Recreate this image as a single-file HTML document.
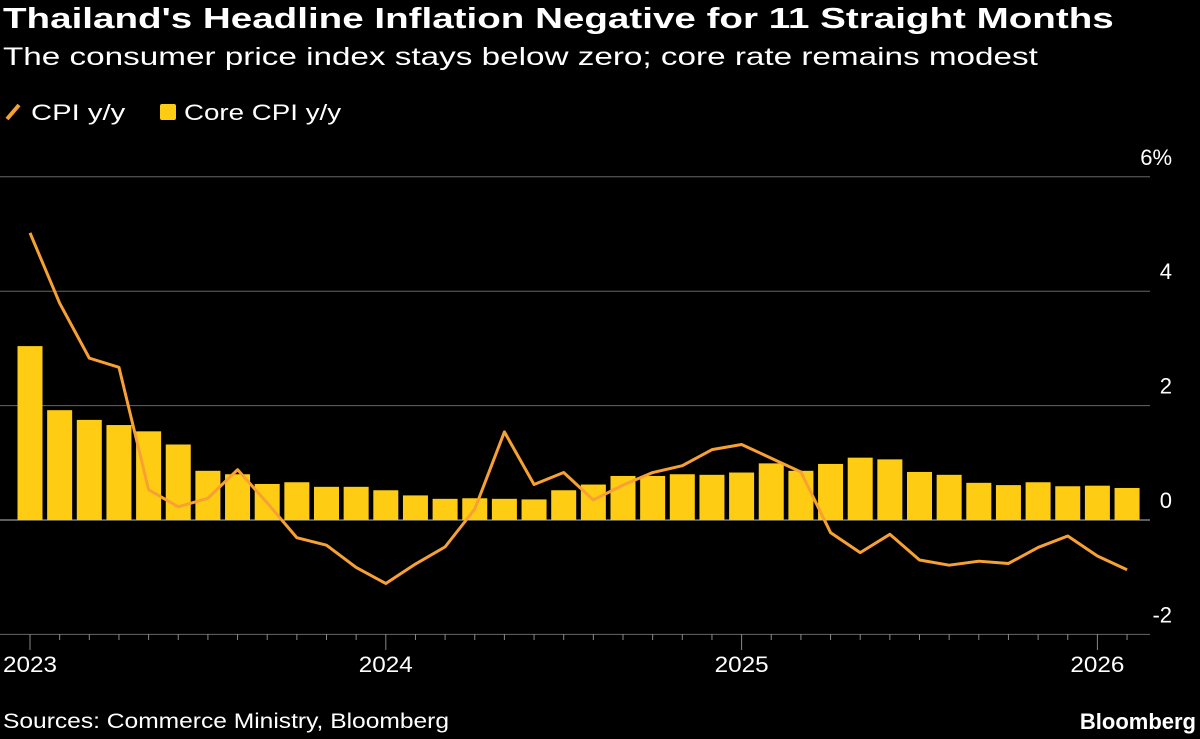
<!DOCTYPE html>
<html><head><meta charset="utf-8"><style>
html,body{margin:0;padding:0;background:#000;}
body{width:1200px;height:739px;overflow:hidden;font-family:"Liberation Sans",sans-serif;color:#fff;position:relative;}
.t{position:absolute;white-space:nowrap;transform-origin:0 0;}
</style></head><body>
<div class="t" style="left:3px;top:3px;font-size:29px;font-weight:bold;transform:scaleX(1.33);">Thailand's Headline Inflation Negative for 11 Straight Months</div>
<div class="t" style="left:3px;top:43px;font-size:25px;transform:scaleX(1.33);">The consumer price index stays below zero; core rate remains modest</div>
<div class="t" style="left:3px;top:100px;font-size:22px;"><svg width="22" height="22" style="vertical-align:-3px"><line x1="4" y1="18" x2="16" y2="4" stroke="#f7a134" stroke-width="4"/></svg> <span style="display:inline-block;transform:scaleX(1.33);transform-origin:0 0;">CPI y/y</span></div>
<div class="t" style="left:156px;top:100px;font-size:22px;"><svg width="22" height="22" style="vertical-align:-3px"><rect x="4" y="3" width="16" height="16" rx="2" fill="#ffcc14"/></svg> <span style="display:inline-block;transform:scaleX(1.26);transform-origin:0 0;">Core CPI y/y</span></div>
<svg id="chart" width="1200" height="739" style="position:absolute;left:0;top:0"></svg>
<div class="t" style="left:3px;top:710px;font-size:21px;transform:scaleX(1.17);">Sources: Commerce Ministry, Bloomberg</div>
<div class="t" style="right:4px;top:709px;font-size:22px;font-weight:bold;">Bloomberg</div>
<script>
const core=[3.04,1.92,1.75,1.66,1.55,1.32,0.86,0.80,0.63,0.66,0.58,0.58,0.52,0.43,0.37,0.38,0.37,0.36,0.52,0.62,0.77,0.77,0.80,0.79,0.83,0.99,0.86,0.98,1.09,1.06,0.84,0.79,0.65,0.61,0.66,0.59,0.60,0.56];
const cpi=[5.02,3.79,2.83,2.67,0.53,0.23,0.38,0.88,0.30,-0.31,-0.44,-0.83,-1.11,-0.77,-0.47,0.19,1.54,0.62,0.83,0.35,0.61,0.83,0.95,1.23,1.32,1.08,0.84,-0.22,-0.57,-0.25,-0.70,-0.79,-0.72,-0.76,-0.48,-0.28,-0.63,-0.87];
const yTicks=[6,4,2,0,-2];
const yearLabels=["2023","2024","2025","2026"];
const svg=document.getElementById('chart');
const NS='http://www.w3.org/2000/svg';
const x=i=>30+i*29.65;
const y=v=>520-v*57.2;
function mk(t,a){const e=document.createElementNS(NS,t);for(const k in a)e.setAttribute(k,a[k]);svg.appendChild(e);return e;}
yTicks.forEach(v=>{
 const g=mk('line',{x1:0,x2:1150,y1:y(v),y2:y(v),stroke:v===0?'#bbb':'#666','stroke-width':1});
 
 
 const t=mk('text',{x:1172,y:y(v)-12,'text-anchor':'end','font-size':22,fill:'#fff','font-family':'Liberation Sans, sans-serif'});
 t.textContent=v===6?'6%':String(v);
 
 
});
core.forEach((v,i)=>{
 const r=mk('rect',{x:x(i)-12.5,width:25,y:Math.min(y(v),y(0)),height:Math.abs(y(v)-y(0)),fill:'#ffcc14'});
 
 
});
for(let i=0;i<core.length;i++){
 const major=i%12===0;
 const tk=mk('line',{x1:x(i),x2:x(i),y1:634,y2:major?650:640,stroke:'#888','stroke-width':1});
 
 
}
yearLabels.forEach((s,k)=>{
 const t=mk('text',{x:x(k*12),y:672,'text-anchor':'middle','font-size':22,fill:'#fff','font-family':'Liberation Sans, sans-serif',textLength:54,lengthAdjust:'spacingAndGlyphs'});
 t.textContent=s;
 
 
});
const p=mk('polyline',{points:cpi.map((v,i)=>x(i)+','+y(v)).join(' '),fill:'none',stroke:'#f7a134','stroke-width':3,'stroke-linejoin':'round'});


</script>
</body></html>
